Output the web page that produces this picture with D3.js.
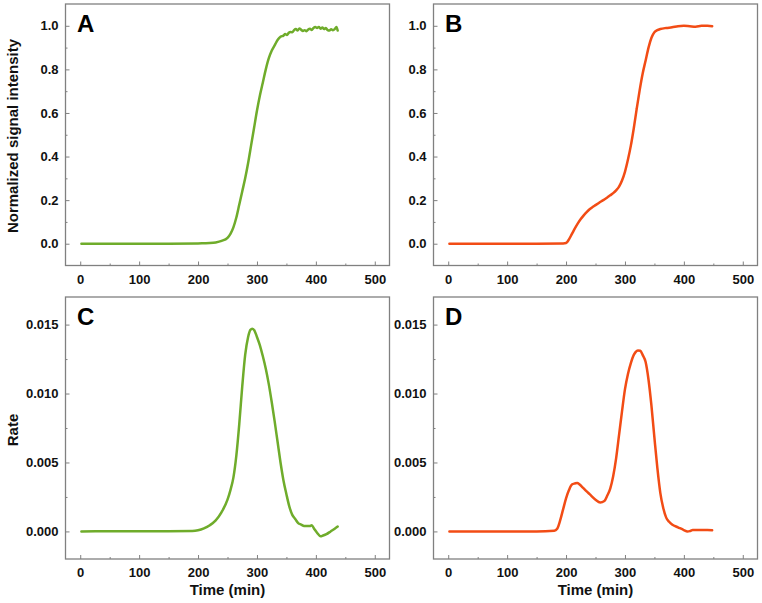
<!DOCTYPE html>
<html><head><meta charset="utf-8">
<script src="https://cdn.jsdelivr.net/npm/d3@7"></script>
<style>
html,body{margin:0;padding:0;background:#fff;}
svg{display:block;font-family:"Liberation Sans",Arial,sans-serif;}
</style></head>
<body>
<svg id="chart" width="762" height="603"></svg>
<script>
// ---------- data ----------
const timeA   = [2,50,100,150,200,210,220,230,240,250,255,260,265,270,275,280,285,290,295,300,305,310,315,320,325,330,335,340,345,348,351,354,357,360,363,366,369,372,375,378,381,384,387,390,393,396,399,402,405,408,411,414,417,420,423,426,429,432,435,437];
const signalA = [0,0,0,0,0.001,0.002,0.003,0.006,0.013,0.027,0.045,0.075,0.12,0.18,0.24,0.30,0.37,0.45,0.53,0.61,0.68,0.74,0.80,0.85,0.885,0.91,0.935,0.95,0.955,0.962,0.958,0.968,0.972,0.97,0.98,0.985,0.978,0.988,0.982,0.976,0.98,0.975,0.983,0.986,0.981,0.99,0.994,0.99,0.995,0.987,0.992,0.985,0.99,0.98,0.978,0.984,0.98,0.985,0.995,0.978];

const timeB   = [2,50,100,150,195,200,205,210,215,220,225,230,235,240,245,250,255,260,265,270,275,280,285,290,295,300,305,310,315,320,325,330,335,340,345,350,355,360,370,380,390,400,410,420,430,440,448];
const signalB = [0,0,0,0,0.001,0.003,0.02,0.045,0.07,0.093,0.113,0.13,0.145,0.158,0.168,0.177,0.186,0.195,0.203,0.212,0.222,0.232,0.245,0.262,0.29,0.33,0.385,0.45,0.53,0.62,0.705,0.78,0.84,0.9,0.945,0.97,0.98,0.985,0.99,0.993,0.998,1.0,0.998,0.996,1.0,1.0,0.998];

const timeC = [2,50,100,150,190,200,210,220,230,240,250,255,260,265,270,275,280,285,289,292,296,300,305,310,315,320,325,330,335,340,345,350,355,360,365,370,375,380,385,390,393,397,402,408,412,418,425,432,437];
const rateC = [0,0.00001,0.00002,0.00002,0.00003,0.00008,0.00022,0.00045,0.0008,0.0014,0.0023,0.003,0.0039,0.0055,0.0078,0.0105,0.0128,0.0141,0.01462,0.0147,0.01455,0.0141,0.0135,0.0127,0.0118,0.0107,0.0094,0.008,0.0065,0.005,0.0037,0.0027,0.0018,0.0012,0.0009,0.0006,0.0005,0.0004,0.0004,0.0004,0.00045,0.0002,-0.0001,-0.00035,-0.0003,-0.0002,0,0.0002,0.00035];

const timeD = [2,50,100,150,180,185,190,195,200,205,210,215,219,223,228,235,240,250,258,265,270,275,280,285,290,295,300,305,310,315,318,322,326,330,335,340,345,350,355,360,365,370,375,380,390,400,406,410,415,420,430,440,448];
const rateD = [0,0,0,0,0.00005,0.0002,0.0008,0.0016,0.0024,0.003,0.0034,0.00348,0.00352,0.0034,0.0032,0.0029,0.0027,0.0023,0.0021,0.0022,0.0026,0.0031,0.004,0.0053,0.007,0.0087,0.0103,0.0114,0.0122,0.0128,0.013,0.01312,0.0131,0.0128,0.0123,0.011,0.0091,0.0068,0.0046,0.0028,0.0017,0.001,0.0007,0.0005,0.0003,0.0001,0,0.00002,0.0001,0.0001,0.0001,0.0001,0.00008];

const xTicks = [0,100,200,300,400,500];
const xMinor = [50,150,250,350,450];
const sigTicks = [0,0.2,0.4,0.6,0.8,1.0];
const sigMinor = [0.1,0.3,0.5,0.7,0.9];
const rateTicks = [0,0.005,0.010,0.015];
const rateMinor = [0.0025,0.0075,0.0125];

const green = "#6fac2b";
const orange = "#f24c15";

// ---------- layout ----------
const svg = d3.select("#chart");
const colX = [[65.5,389.5],[433.5,757.5]];
const rowY = [[4,265.5],[297,559]];

const panels = [
  {letter:"A", col:0,row:0, t:timeA, v:signalA, color:green,  yDom:[-0.1,1.1], yt:sigTicks, ym:sigMinor, fmt:d3.format(".1f")},
  {letter:"B", col:1,row:0, t:timeB, v:signalB, color:orange, yDom:[-0.1,1.1], yt:sigTicks, ym:sigMinor, fmt:d3.format(".1f")},
  {letter:"C", col:0,row:1, t:timeC, v:rateC,   color:green,  yDom:[-0.002,0.017], yt:rateTicks, ym:rateMinor, fmt:d3.format(".3f")},
  {letter:"D", col:1,row:1, t:timeD, v:rateD,   color:orange, yDom:[-0.002,0.017], yt:rateTicks, ym:rateMinor, fmt:d3.format(".3f")}
];

const frameColor = "#808080";

panels.forEach(p => {
  const [x0,x1] = colX[p.col];
  const [y0,y1] = rowY[p.row];
  const x = d3.scaleLinear().domain([-25,525]).range([x0,x1]);
  const y = d3.scaleLinear().domain(p.yDom).range([y1,y0]);
  const g = svg.append("g");

  // line
  const data = p.t.map((t,i)=>({t, v:p.v[i]}));
  g.append("path").datum(data)
    .attr("fill","none").attr("stroke",p.color).attr("stroke-width",2.5)
    .attr("stroke-linejoin","round").attr("stroke-linecap","round")
    .attr("d", d3.line().x(d=>x(d.t)).y(d=>y(d.v)).curve(d3.curveMonotoneX));

  // axes
  const styleAxis = sel => {
    sel.select(".domain").remove();
    sel.selectAll(".tick line").attr("stroke",frameColor).attr("stroke-width",1);
    sel.selectAll(".tick text").attr("fill","#111").attr("font-size","13px").attr("font-weight","bold")
      .attr("font-family","'Liberation Sans',Arial,sans-serif");
  };
  g.append("g").attr("transform",`translate(0,${y1})`)
    .call(d3.axisBottom(x).tickValues(xTicks).tickSize(-4).tickPadding(9).tickFormat(d3.format("d")))
    .call(styleAxis);
  g.append("g").attr("transform",`translate(0,${y1})`)
    .call(d3.axisBottom(x).tickValues(xMinor).tickSize(-2).tickFormat(""))
    .call(styleAxis);
  g.append("g").attr("transform",`translate(${x0},0)`)
    .call(d3.axisLeft(y).tickValues(p.yt).tickSize(-4).tickPadding(7).tickFormat(p.fmt))
    .call(styleAxis);
  g.append("g").attr("transform",`translate(${x0},0)`)
    .call(d3.axisLeft(y).tickValues(p.ym).tickSize(-2).tickFormat(""))
    .call(styleAxis);

  // frame
  g.append("rect").attr("x",x0).attr("y",y0).attr("width",x1-x0).attr("height",y1-y0)
    .attr("fill","none").attr("stroke",frameColor).attr("stroke-width",1.3);

  // panel letter
  g.append("text").attr("x",x0+11.5).attr("y",y0+28).text(p.letter)
    .attr("font-size","24px").attr("font-weight","bold").attr("fill","#000");

  // x title on bottom row
  if (p.row===1) {
    g.append("text").attr("x",(x0+x1)/2).attr("y",595).attr("text-anchor","middle")
      .attr("font-size","15px").attr("font-weight","bold").attr("fill","#111").text("Time (min)");
  }
});

// y titles
svg.append("text").attr("transform","translate(17.5,136) rotate(-90)").attr("text-anchor","middle")
  .attr("font-size","15px").attr("font-weight","bold").attr("fill","#111").text("Normalized signal intensity");
svg.append("text").attr("transform","translate(17.5,430) rotate(-90)").attr("text-anchor","middle")
  .attr("font-size","15px").attr("font-weight","bold").attr("fill","#111").text("Rate");
</script>
</body></html>
